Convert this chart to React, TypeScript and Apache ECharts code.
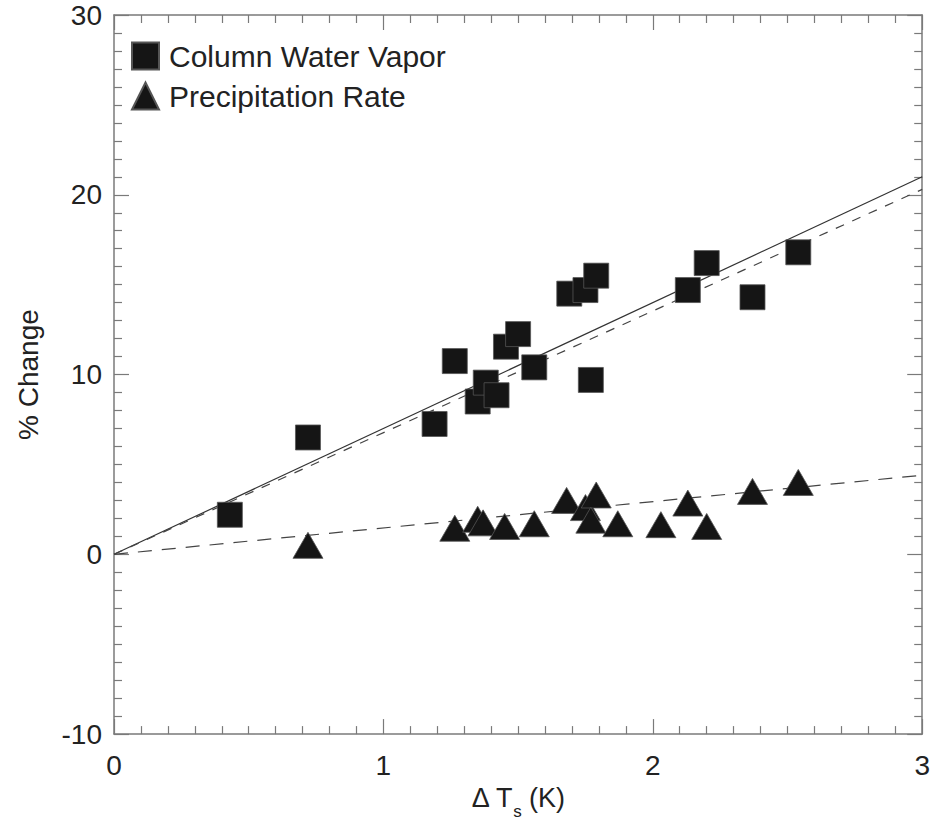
import React, { useEffect, useRef } from "react";
import * as echarts from "echarts";

// Column Water Vapor (% change) vs ΔTs (K)
const cwvX = [0.43, 0.72, 1.19, 1.265, 1.35, 1.38, 1.42, 1.455, 1.5, 1.56, 1.69, 1.75, 1.79, 1.77, 2.13, 2.2, 2.37, 2.54];
const cwvY = [2.2, 6.5, 7.25, 10.75, 8.5, 9.55, 8.85, 11.55, 12.25, 10.4, 14.5, 14.7, 15.5, 9.7, 14.7, 16.2, 14.3, 16.8];

// Precipitation Rate (% change) vs ΔTs (K)
const prX = [0.72, 1.265, 1.35, 1.37, 1.45, 1.56, 1.68, 1.75, 1.79, 1.77, 1.87, 2.03, 2.13, 2.2, 2.37, 2.54];
const prY = [0.5, 1.45, 1.95, 1.75, 1.55, 1.7, 3.0, 2.6, 3.3, 1.9, 1.7, 1.65, 2.85, 1.55, 3.5, 4.0];

// Fit lines (endpoints)
const cwvFitSolidX = [0, 3];
const cwvFitSolidY = [0, 21.0];
const cwvFitDashX = [0, 3];
const cwvFitDashY = [0, 20.3];
const prFitX = [0, 3];
const prFitY = [0, 4.4];

const seriesNames = ["Column Water Vapor", "Precipitation Rate"];
const xTicks = [0, 1, 2, 3];
const yTicks = [-10, 0, 10, 20, 30];

const zip = (xs: number[], ys: number[]) => xs.map((x, i) => [x, ys[i]]);

const FONT = "'Liberation Sans', Arial, Helvetica, sans-serif";
const FRAME = "#7a7a7a";
const TEXT = "#222";

export default function App() {
  const ref = useRef<HTMLDivElement>(null);
  useEffect(() => {
    if (!ref.current) return;
    const chart = echarts.init(ref.current, undefined, { renderer: "svg" });
    const axisCommon = {
      axisLine: { show: true, onZero: false, lineStyle: { color: FRAME, width: 1.5 } },
      axisTick: { show: true, inside: true, length: 15, lineStyle: { color: FRAME, width: 1.2 } },
      minorTick: { show: true, splitNumber: 10, length: 8, lineStyle: { color: FRAME, width: 1.2 } },
      splitLine: { show: false },
    };
    chart.setOption({
      animation: false,
      backgroundColor: "#ffffff",
      textStyle: { fontFamily: FONT },
      grid: { left: 114, right: 3, top: 15, bottom: 82, containLabel: false },
      legend: {
        orient: "vertical",
        left: 126,
        top: 36,
        itemWidth: 27,
        itemHeight: 27,
        itemGap: 10,
        data: [
          { name: seriesNames[0], icon: "rect" },
          { name: seriesNames[1], icon: "triangle" },
        ],
        textStyle: { fontSize: 30, color: TEXT, fontFamily: FONT, padding: [0, 0, 0, 5] },
      },
      xAxis: [
        {
          type: "value",
          min: xTicks[0],
          max: xTicks[xTicks.length - 1],
          interval: 1,
          position: "bottom",
          name: "Δ T{s|s} (K)",
          nameLocation: "middle",
          nameGap: 45,
          nameTextStyle: {
            fontSize: 27,
            color: TEXT,
            fontFamily: FONT,
            rich: { s: { fontSize: 17, color: TEXT, verticalAlign: "bottom", padding: [0, 0, -9, 0] } },
          },
          axisLabel: { fontSize: 28, color: TEXT, margin: 17, fontFamily: FONT },
          ...axisCommon,
        },
        {
          type: "value",
          min: xTicks[0],
          max: xTicks[xTicks.length - 1],
          interval: 1,
          position: "top",
          axisLabel: { show: false },
          ...axisCommon,
        },
      ],
      yAxis: [
        {
          type: "value",
          min: yTicks[0],
          max: yTicks[yTicks.length - 1],
          interval: 10,
          position: "left",
          name: "% Change",
          nameLocation: "middle",
          nameGap: 72,
          nameTextStyle: { fontSize: 28, color: TEXT, fontFamily: FONT },
          axisLabel: { fontSize: 28, color: TEXT, margin: 12, fontFamily: FONT },
          ...axisCommon,
        },
        {
          type: "value",
          min: yTicks[0],
          max: yTicks[yTicks.length - 1],
          interval: 10,
          position: "right",
          axisLabel: { show: false },
          ...axisCommon,
        },
      ],
      series: [
        {
          name: "cwvFitSolid",
          type: "line",
          data: zip(cwvFitSolidX, cwvFitSolidY),
          showSymbol: false,
          symbol: "none",
          lineStyle: { color: "#333", width: 1.2, type: "solid" },
          z: 1,
        },
        {
          name: "cwvFitDash",
          type: "line",
          data: zip(cwvFitDashX, cwvFitDashY),
          showSymbol: false,
          symbol: "none",
          lineStyle: { color: "#444", width: 1.2, type: [9, 9] },
          z: 1,
        },
        {
          name: "prFit",
          type: "line",
          data: zip(prFitX, prFitY),
          showSymbol: false,
          symbol: "none",
          lineStyle: { color: "#444", width: 1.2, type: [14, 10] },
          z: 1,
        },
        {
          name: seriesNames[0],
          type: "scatter",
          symbol: "rect",
          symbolSize: 25,
          data: zip(cwvX, cwvY),
          itemStyle: { color: "#151515", borderColor: "#555", borderWidth: 0.8, opacity: 1 },
          z: 3,
        },
        {
          name: seriesNames[1],
          type: "scatter",
          symbol: "triangle",
          symbolSize: [30, 26],
          data: zip(prX, prY),
          itemStyle: { color: "#151515", borderColor: "#555", borderWidth: 0.8, opacity: 1 },
          z: 3,
        },
      ],
    });
    return () => chart.dispose();
  }, []);
  return (
    <div
      ref={ref}
      style={{ position: "absolute", left: 0, top: 0, width: 933, height: 825, background: "#fff" }}
    />
  );
}
